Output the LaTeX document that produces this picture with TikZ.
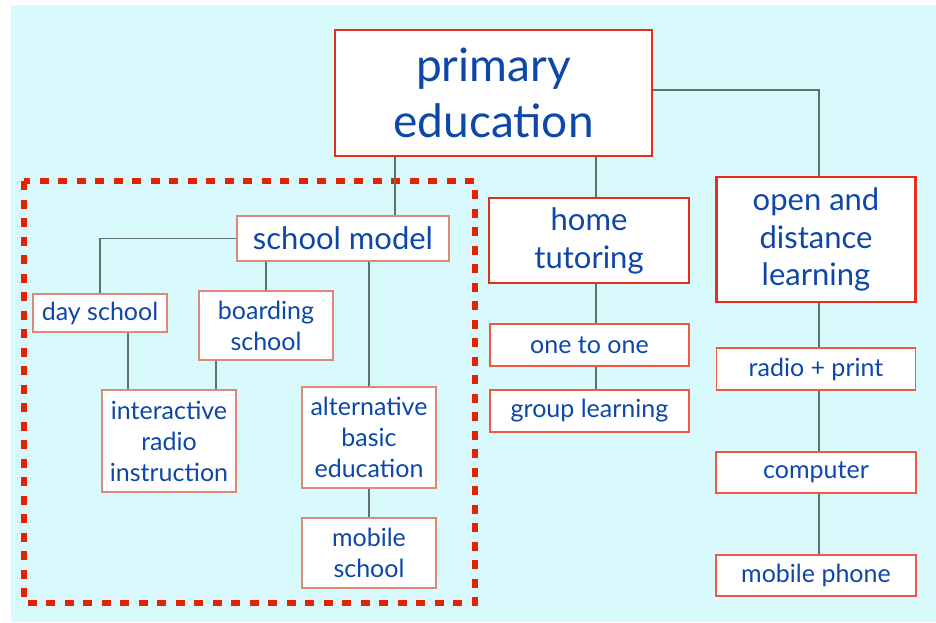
\documentclass[tikz,border=0pt]{standalone}
\usepackage{fontspec}
\setmainfont{Lato}
\definecolor{bgc}{HTML}{D9FAFD}
\definecolor{txt}{HTML}{0D47A8}
\definecolor{bigred}{HTML}{E2301A}
\definecolor{pale}{HTML}{E08878}
\definecolor{orng}{HTML}{EE5A40}
\definecolor{dashred}{HTML}{E32400}
\definecolor{wirec}{HTML}{5E7070}
\begin{document}
\begin{tikzpicture}[x=1pt,y=-1pt,
  box/.style={draw, fill=white, inner sep=0pt, align=center, text=txt},
  bigbox/.style={box, draw=bigred, line width=2.2pt},
  palebox/.style={box, draw=pale, line width=1.3pt, font=\fontsize{25}{31}\selectfont},
  orbox/.style={box, draw=orng, line width=1.5pt, font=\fontsize{25}{31}\selectfont},
  wire/.style={draw=wirec, line width=1.4pt}]
\useasboundingbox (0,0) rectangle (936,622);
\fill[bgc] (11,5) rectangle (936,622);
\draw[draw=dashred, line width=6pt, dash pattern=on 9pt off 9.5pt] (24,181) rectangle (474.5,603);
% nodes
\node[bigbox, minimum width=317pt, minimum height=126pt, font=\fontsize{46}{56}\selectfont] (prim) at (493.5,93) {primary\\education};
\node[palebox, minimum width=212pt, minimum height=45pt, font=\fontsize{31}{34}\selectfont] (sm) at (343,238.5) {school model};
\node[palebox, minimum width=134pt, minimum height=38pt] (day) at (100,313) {day school};
\node[palebox, minimum width=134pt, minimum height=69pt] (board) at (266,325.5) {boarding\\school};
\node[palebox, minimum width=134pt, minimum height=102pt] (inter) at (169,441) {interactive\\radio\\instruction};
\node[palebox, minimum width=134pt, minimum height=101pt] (alt) at (369,437.5) {alternative\\basic\\education};
\node[palebox, minimum width=134pt, minimum height=70pt] (mob) at (369,553) {mobile\\school};
\node[bigbox, minimum width=200pt, minimum height=85pt, font=\fontsize{31}{38}\selectfont] (home) at (589,240.5) {home\\tutoring};
\node[orbox, minimum width=199pt, minimum height=42pt] (one) at (589.5,345) {one to one};
\node[orbox, minimum width=199pt, minimum height=42pt] (group) at (589.5,411) {group learning};
\node[bigbox, minimum width=199pt, minimum height=125pt, font=\fontsize{31}{37.5}\selectfont] (odl) at (816,239.5) {open and\\distance\\learning};
\node[orbox, minimum width=199pt, minimum height=42pt] (radio) at (816,369) {radio + print};
\node[orbox, minimum width=200pt, minimum height=41pt] (comp) at (816,472.5) {computer};
\node[orbox, minimum width=200pt, minimum height=41pt] (phone) at (816,575.5) {mobile phone};
% connectors
\coordinate (xa) at (395,0);
\coordinate (xb) at (596,0);
\coordinate (xc) at (128,0);
\coordinate (xd) at (216,0);
\coordinate (xe) at (819,0);
\coordinate (ya) at (0,90);
\path[wire] (prim.east |- ya) -| (odl.north -| xe);
\path[wire] (prim.south -| xa) -- (sm.north -| xa);
\path[wire] (prim.south -| xb) -- (home.north -| xb);
\path[wire] (sm.west) -| (day.north);
\path[wire] (sm.south -| board.north) -- (board.north);
\path[wire] (sm.south -| alt.north) -- (alt.north);
\path[wire] (day.south -| xc) -- (inter.north -| xc);
\path[wire] (board.south -| xd) -- (inter.north -| xd);
\path[wire] (alt.south) -- (mob.north);
\path[wire] (home.south -| xb) -- (one.north -| xb);
\path[wire] (one.south -| xb) -- (group.north -| xb);
\path[wire] (odl.south -| xe) -- (radio.north -| xe);
\path[wire] (radio.south -| xe) -- (comp.north -| xe);
\path[wire] (comp.south -| xe) -- (phone.north -| xe);
\end{tikzpicture}
\end{document}
